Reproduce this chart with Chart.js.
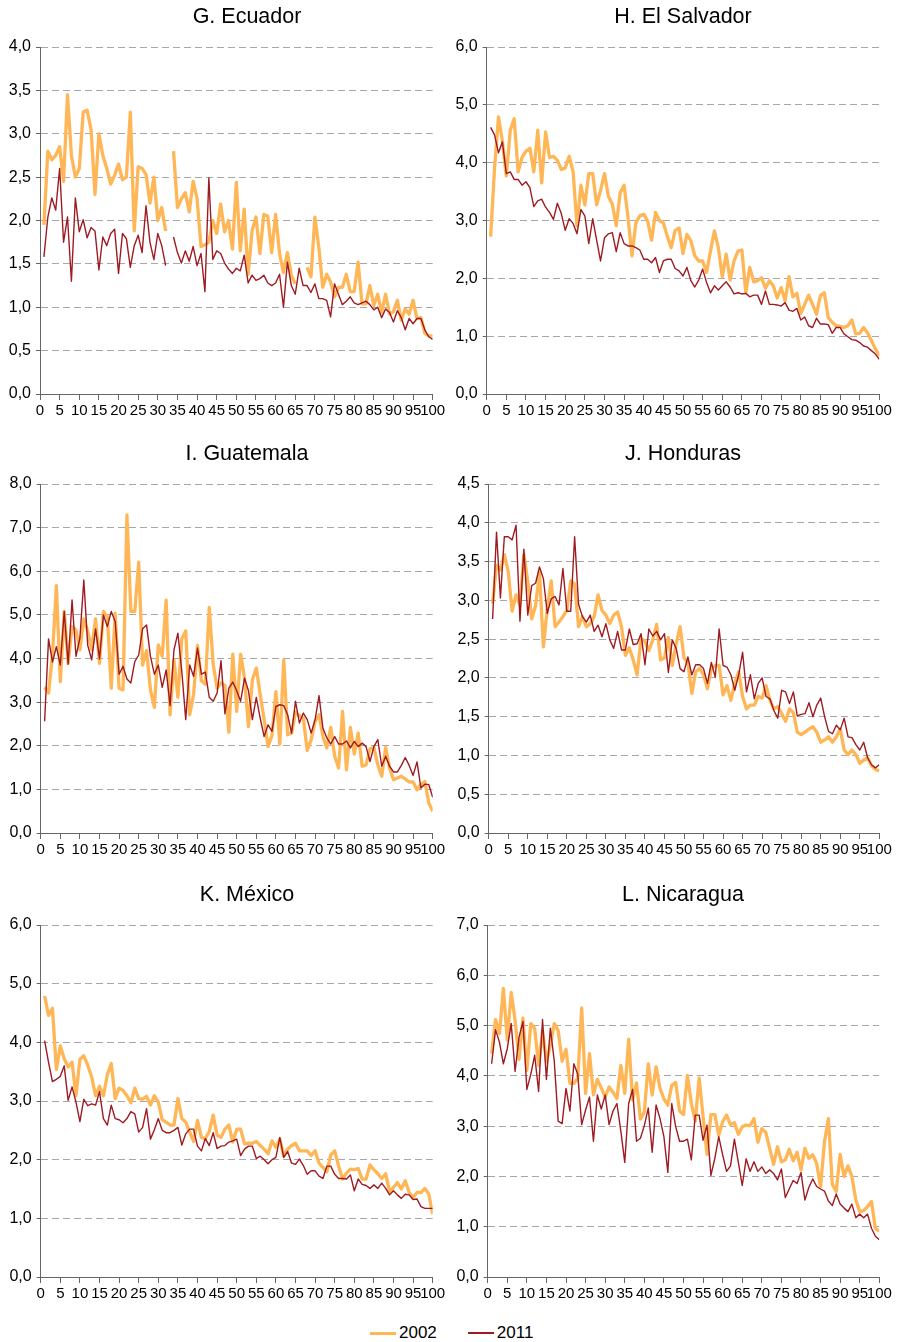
<!DOCTYPE html>
<html>
<head>
<meta charset="utf-8">
<script src="https://cdn.jsdelivr.net/npm/chart.js@4.4.1/dist/chart.umd.min.js"></script>
<style>
  body { margin: 0; width: 898px; height: 1342px; background: #fff; position: relative; overflow: hidden;
         font-family: "Liberation Sans", Arial, sans-serif; }
  canvas { position: absolute; }
  #legend { position: absolute; left: 370px; top: 1322px; height: 22px; display: flex; align-items: center;
            font-size: 17px; color: #000; }
  .swatch { display: inline-block; width: 26px; margin-right: 3px; }
</style>
</head>
<body>
<canvas id="ecuador" width="449" height="430" style="left:0px;top:0px"></canvas>
<canvas id="salvador" width="449" height="430" style="left:447px;top:0px"></canvas>
<canvas id="guatemala" width="449" height="432" style="left:0px;top:437px"></canvas>
<canvas id="honduras" width="449" height="432" style="left:447px;top:437px"></canvas>
<canvas id="mexico" width="449" height="435" style="left:0px;top:878px"></canvas>
<canvas id="nicaragua" width="449" height="435" style="left:447px;top:878px"></canvas>
<div id="legend">
  <span class="swatch" style="height:3px;background:#FFB656"></span><span style="margin-right:31px">2002</span>
  <span class="swatch" style="height:1.5px;background:#9E1B22"></span><span>2011</span>
</div>
<script>
// percentiles 1..100 on the x axis
const pcts = Array.from({ length: 100 }, (_, i) => i + 1);
const years = ["2002", "2011"];

const ecuador2002 = [
  1.95, 2.8, 2.7, 2.75, 2.85, 2.45, 3.45, 2.75, 2.5, 2.6,
  3.25, 3.27, 3.05, 2.3, 3.0, 2.75, 2.6, 2.42, 2.52, 2.65,
  2.47, 2.5, 3.25, 1.88, 2.62, 2.6, 2.53, 2.2, 2.5, 2.0,
  2.15, 1.88, null, 2.8, 2.15, 2.25, 2.32, 2.1, 2.45, 2.25,
  1.7, 1.72, 1.75, 2.0, 1.85, 2.19, 1.87, 2.0, 1.67, 2.44,
  1.65, 2.13, 1.38, 1.88, 2.04, 1.62, 2.07, 2.05, 1.63, 2.07,
  1.62, 1.40, 1.63, 1.37, 1.27, null, null, 1.46, 1.35, 2.04,
  1.69, 1.23, 1.38, 1.29, 1.12, 1.23, 1.23, 1.38, 1.18, 1.18,
  1.52, 1.04, 1.04, 1.25, 1.02, 1.15, 0.94, 1.15, 0.92, 0.95,
  1.08, 0.85, 0.98, 0.92, 1.08, 0.87, 0.88, 0.70, 0.67, 0.67,
];
const ecuador2011 = [
  1.58, 2.04, 2.26, 2.12, 2.6, 1.75, 2.04, 1.3, 2.26, 1.87,
  2.01, 1.80, 1.92, 1.88, 1.43, 1.81, 1.71, 1.85, 1.90, 1.39,
  1.85, 1.79, 1.46, 1.71, 1.83, 1.63, 2.17, 1.75, 1.55, 1.85,
  1.71, 1.48, null, 1.81, 1.63, 1.51, 1.65, 1.53, 1.70, 1.48,
  1.62, 1.18, 2.49, 1.55, 1.65, 1.62, 1.51, 1.44, 1.39, 1.45,
  1.42, 1.60, 1.28, 1.37, 1.31, 1.33, 1.37, 1.28, 1.25, 1.28,
  1.38, 1.0, 1.52, 1.25, 1.15, 1.45, 1.25, 1.25, 1.17, 1.27,
  1.10, 1.10, 1.08, 0.89, 1.27, 1.15, 1.03, 1.07, 1.12, 1.05,
  1.03, 1.05, 1.07, 1.03, 0.97, 1.0, 0.88, 0.98, 0.94, 0.83,
  0.96, 0.88, 0.74, 0.87, 0.81, 0.87, 0.87, 0.74, 0.66, 0.63,
];
const salvador2002 = [
  2.72, 3.9, 4.79, 4.37, 3.77, 4.56, 4.76, 3.84, 4.09, 4.2,
  4.25, 3.84, 4.56, 3.65, 4.53, 4.09, 4.11, 4.04, 3.88, 3.91,
  4.11, 3.85, 2.91, 3.61, 3.27, 3.81, 3.81, 3.27, 3.52, 3.81,
  3.42, 3.28, 2.91, 3.48, 3.61, 3.05, 2.39, 2.96, 3.08, 3.11,
  2.99, 2.66, 3.14, 3.0, 2.96, 2.73, 2.53, 2.83, 2.87, 2.43,
  2.76, 2.65, 2.39, 2.30, 2.30, 2.10, 2.47, 2.82, 2.53, 2.03,
  2.42, 1.97, 2.30, 2.47, 2.49, 1.75, 2.19, 1.94, 1.96, 2.01,
  1.83, 1.96, 1.87, 1.66, 1.84, 1.61, 2.03, 1.68, 1.74, 1.39,
  1.55, 1.71, 1.55, 1.38, 1.70, 1.75, 1.32, 1.24, 1.18, 1.17,
  1.15, 1.18, 1.28, 1.04, 1.05, 1.15, 1.06, 0.92, 0.78, 0.66,
];
const salvador2011 = [
  4.61, 4.48, 4.17, 4.36, 3.81, 3.84, 3.71, 3.71, 3.61, 3.67,
  3.57, 3.24, 3.34, 3.37, 3.23, 3.14, 3.02, 3.30, 3.12, 2.83,
  3.03, 2.95, 2.77, 3.19, 3.08, 2.60, 3.03, 2.66, 2.30, 2.70,
  2.77, 2.79, 2.46, 2.79, 2.60, 2.56, 2.56, 2.53, 2.49, 2.33,
  2.33, 2.27, 2.36, 2.10, 2.30, 2.33, 2.33, 2.17, 2.13, 2.04,
  2.19, 1.96, 1.85, 1.97, 2.16, 1.93, 1.75, 1.87, 1.80, 1.87,
  1.94, 1.85, 1.73, 1.75, 1.73, 1.74, 1.68, 1.71, 1.71, 1.55,
  1.78, 1.55, 1.55, 1.54, 1.52, 1.58, 1.45, 1.43, 1.48, 1.28,
  1.33, 1.18, 1.15, 1.31, 1.21, 1.21, 1.20, 1.05, 1.15, 1.15,
  1.04, 0.99, 0.94, 0.93, 0.89, 0.83, 0.81, 0.75, 0.69, 0.60,
];
const guatemala2002 = [
  3.34, 3.21, 4.08, 5.67, 3.47, 5.08, 3.89, 4.73, 4.66, 4.2,
  4.91, 4.62, 4.2, 4.91, 3.89, 5.08, 4.96, 3.32, 5.04, 3.32,
  3.28, 7.29, 5.08, 5.08, 6.21, 3.85, 4.18, 3.28, 2.88, 4.31,
  4.05, 5.34, 2.71, 3.97, 3.11, 4.45, 4.63, 2.71, 3.17, 4.30,
  3.49, 3.41, 5.17, 3.87, 3.32, 3.44, 3.38, 2.31, 4.10, 2.79,
  4.10, 3.55, 2.44, 3.51, 3.78, 3.17, 2.60, 1.98, 2.24, 3.24,
  2.04, 3.97, 2.25, 2.29, 2.77, 2.69, 2.63, 1.89, 2.14, 2.56,
  2.71, 2.21, 1.95, 2.42, 1.76, 1.49, 2.79, 1.45, 2.42, 1.81,
  2.29, 1.53, 1.56, 1.93, 1.96, 1.56, 1.30, 1.96, 1.49, 1.22,
  1.26, 1.30, 1.24, 1.17, 1.17, 0.99, 1.11, 1.18, 0.69, 0.50,
];
const guatemala2011 = [
  2.56, 4.45, 3.92, 4.27, 3.85, 5.08, 3.87, 5.34, 4.05, 4.47,
  5.80, 4.30, 3.97, 4.68, 3.99, 5.0, 4.73, 5.08, 4.85, 3.64,
  3.82, 3.53, 3.44, 3.93, 4.08, 4.68, 4.77, 4.05, 3.64, 3.85,
  3.34, 3.74, 2.92, 4.20, 4.58, 3.70, 2.60, 3.85, 3.59, 4.24,
  3.64, 3.69, 3.11, 3.02, 3.21, 3.95, 2.73, 3.32, 3.46, 3.26,
  3.02, 3.55, 3.26, 2.60, 3.11, 2.63, 2.21, 2.48, 2.33, 2.90,
  2.94, 2.92, 2.71, 2.29, 3.02, 2.52, 2.75, 2.60, 2.29, 2.60,
  3.15, 2.40, 2.18, 2.04, 2.21, 2.04, 2.04, 2.11, 1.95, 2.10,
  1.98, 2.06, 1.98, 1.64, 1.98, 2.14, 1.53, 1.76, 1.53, 1.40,
  1.40, 1.55, 1.73, 1.55, 1.32, 1.63, 1.03, 1.12, 1.11, 0.82,
];
const honduras2002 = [
  2.96, 3.45, 3.39, 3.59, 3.37, 2.86, 3.07, 2.94, 3.59, 3.25,
  2.76, 2.93, 3.36, 2.40, 2.90, 3.25, 2.66, 2.72, 2.79, 2.87,
  3.25, 3.21, 2.66, 2.79, 2.66, 2.70, 2.79, 3.07, 2.87, 2.81,
  2.70, 2.81, 2.85, 2.66, 2.29, 2.39, 2.23, 2.04, 2.51, 2.47,
  2.35, 2.49, 2.69, 2.23, 2.26, 2.52, 2.16, 2.44, 2.66, 2.26,
  2.19, 1.80, 2.08, 2.12, 2.04, 1.86, 2.12, 2.16, 2.16, 1.78,
  1.90, 1.71, 1.93, 2.08, 1.76, 1.60, 1.65, 1.65, 1.76, 1.74,
  1.90, 1.71, 1.60, 1.63, 1.54, 1.44, 1.60, 1.55, 1.30, 1.27,
  1.30, 1.34, 1.37, 1.30, 1.17, 1.20, 1.24, 1.17, 1.24, 1.34,
  1.07, 1.01, 1.07, 1.01, 0.90, 0.94, 0.97, 0.87, 0.82, 0.80,
];
const honduras2011 = [
  2.76, 3.88, 3.03, 3.82, 3.82, 3.78, 3.97, 2.73, 3.66, 2.81,
  3.19, 3.22, 3.43, 3.28, 2.83, 3.02, 3.05, 2.94, 3.41, 2.86,
  2.86, 3.82, 2.95, 2.79, 2.72, 2.81, 2.60, 2.68, 2.53, 2.70,
  2.49, 2.38, 2.60, 2.36, 2.36, 2.63, 2.43, 2.44, 2.57, 2.17,
  2.63, 2.54, 2.60, 2.49, 2.57, 2.07, 2.49, 2.38, 2.12, 2.08,
  2.27, 2.04, 2.17, 2.17, 2.12, 1.93, 2.20, 2.01, 2.63, 2.16,
  2.14, 2.04, 1.84, 2.04, 2.33, 1.82, 2.04, 1.73, 1.93, 2.00,
  1.76, 1.73, 1.58, 1.48, 1.84, 1.82, 1.67, 1.82, 1.51, 1.53,
  1.54, 1.68, 1.50, 1.65, 1.74, 1.50, 1.31, 1.28, 1.39, 1.33,
  1.48, 1.24, 1.23, 1.14, 1.07, 1.17, 0.97, 0.88, 0.84, 0.88,
];
const mexico2002 = [
  4.79, 4.46, 4.58, 3.54, 3.94, 3.72, 3.58, 3.66, 3.09, 3.71,
  3.77, 3.61, 3.41, 3.09, 3.25, 3.09, 3.45, 3.64, 3.04, 3.22,
  3.18, 3.09, 2.97, 3.22, 3.04, 3.03, 3.08, 2.93, 3.09, 2.98,
  2.68, 2.64, 2.59, 2.59, 3.04, 2.70, 2.64, 2.47, 2.31, 2.67,
  2.38, 2.36, 2.48, 2.76, 2.42, 2.38, 2.52, 2.59, 2.30, 2.52,
  2.52, 2.27, 2.28, 2.28, 2.31, 2.24, 2.18, 2.10, 2.32, 2.21,
  2.35, 2.06, 2.18, 2.24, 2.28, 2.15, 2.15, 2.15, 2.07, 2.15,
  1.94, 1.87, 1.79, 2.08, 2.15, 1.89, 1.67, 1.77, 1.84, 1.83,
  1.85, 1.67, 1.67, 1.91, 1.83, 1.76, 1.68, 1.76, 1.45, 1.53,
  1.61, 1.50, 1.64, 1.44, 1.36, 1.44, 1.44, 1.51, 1.41, 1.07,
];
const mexico2011 = [
  4.03, 3.66, 3.33, 3.37, 3.42, 3.60, 3.01, 3.24, 2.98, 2.65,
  3.03, 2.92, 2.95, 2.93, 3.16, 2.70, 2.59, 2.93, 2.70, 2.68,
  2.63, 2.70, 2.82, 2.78, 2.47, 2.55, 2.87, 2.35, 2.51, 2.70,
  2.50, 2.46, 2.46, 2.50, 2.55, 2.25, 2.44, 2.52, 2.52, 2.23,
  2.15, 2.36, 2.24, 2.46, 2.19, 2.23, 2.24, 2.30, 2.32, 2.35,
  2.07, 2.18, 2.23, 2.23, 2.02, 2.06, 2.00, 1.93, 2.00, 2.04,
  2.38, 2.04, 2.14, 1.94, 1.92, 2.01, 1.90, 1.75, 1.81, 1.81,
  1.72, 1.68, 1.89, 1.89, 1.75, 1.68, 1.68, 1.67, 1.74, 1.47,
  1.67, 1.58, 1.56, 1.51, 1.57, 1.51, 1.60, 1.51, 1.40, 1.47,
  1.40, 1.34, 1.41, 1.40, 1.32, 1.33, 1.20, 1.17, 1.17, 1.17,
];
const nicaragua2002 = [
  4.44, 5.12, 4.84, 5.74, 4.71, 5.66, 5.10, 4.33, 5.15, 4.11,
  5.04, 4.94, 4.21, 4.90, 4.28, 4.61, 5.04, 4.90, 4.29, 4.53,
  3.85, 3.85, 3.95, 5.35, 3.65, 4.44, 3.62, 3.93, 3.76, 3.58,
  3.78, 3.67, 3.55, 4.21, 3.65, 4.73, 3.52, 3.86, 3.14, 3.28,
  4.24, 3.62, 4.18, 3.75, 3.54, 3.42, 3.81, 3.87, 3.30, 3.23,
  4.01, 3.45, 3.10, 3.96, 3.19, 2.44, 3.23, 3.23, 2.82, 3.09,
  3.22, 3.03, 3.07, 2.84, 2.99, 3.02, 3.01, 3.15, 2.68, 2.95,
  2.88, 2.56, 2.24, 2.59, 2.29, 2.33, 2.54, 2.31, 2.48, 2.13,
  2.56, 2.36, 2.43, 2.26, 1.80, 2.69, 3.15, 1.84, 1.70, 2.44,
  2.00, 2.21, 2.00, 1.53, 1.30, 1.32, 1.40, 1.50, 0.97, 0.91,
];
const nicaragua2011 = [
  4.24, 4.92, 4.67, 4.24, 4.54, 5.04, 4.09, 4.77, 5.08, 3.73,
  4.03, 4.41, 3.69, 5.12, 3.93, 4.95, 4.29, 3.10, 3.05, 3.75,
  3.30, 4.24, 4.03, 3.03, 3.32, 3.58, 2.70, 3.62, 3.34, 3.62,
  3.03, 3.30, 3.45, 2.90, 2.28, 3.45, 3.73, 2.70, 2.76, 3.01,
  3.36, 2.48, 3.42, 3.15, 2.79, 2.08, 3.45, 2.99, 2.70, 2.70,
  2.74, 2.33, 3.22, 3.22, 2.72, 3.02, 2.02, 2.36, 2.79, 2.43,
  2.10, 2.21, 2.74, 2.28, 1.82, 2.35, 2.10, 2.29, 2.10, 2.19,
  2.06, 2.13, 2.06, 1.93, 2.15, 1.58, 1.75, 1.92, 1.86, 2.08,
  1.53, 1.78, 1.95, 1.80, 1.75, 1.71, 1.51, 1.42, 1.65, 1.45,
  1.37, 1.30, 1.45, 1.18, 1.25, 1.18, 1.25, 0.97, 0.81, 0.74,
];

const ORANGE = "#FFB656";
const RED = "#9E1B22";
const AXIS = "#666666";
const GRID = "#A8A8A8";
const FONT = '"Liberation Sans", Arial, sans-serif';

// panel heading, drawn at a fixed spot above each plot
const panelTitle = {
  id: "panelTitle",
  afterDraw(chart, args, opts) {
    const ctx = chart.ctx;
    ctx.save();
    ctx.font = "21.5px " + FONT;
    ctx.fillStyle = "#000";
    ctx.textAlign = "center";
    ctx.textBaseline = "middle";
    ctx.fillText(opts.text, opts.x, opts.y);
    ctx.restore();
  },
};

function toPoints(values) {
  return values.map((v, i) => ({ x: pcts[i], y: v }));
}

function makeConfig(title, titleX, yMax, yStep, v2002, v2011, axisWidth, padRight) {
  return {
    type: "line",
    data: {
      datasets: [
        { label: years[0], data: toPoints(v2002), borderColor: ORANGE, borderWidth: 3.3, order: 2 },
        { label: years[1], data: toPoints(v2011), borderColor: RED, borderWidth: 1.4, order: 1 },
      ],
    },
    plugins: [panelTitle],
    options: {
      responsive: false,
      animation: false,
      spanGaps: false,
      elements: {
        point: { radius: 0, hoverRadius: 0 },
        line: { tension: 0, borderJoinStyle: "round", fill: false },
      },
      layout: { padding: { left: 0, right: padRight, top: 47, bottom: 10 } },
      plugins: {
        legend: { display: false },
        tooltip: { enabled: false },
        panelTitle: { text: title, x: titleX, y: 17 },
      },
      scales: {
        x: {
          type: "linear",
          min: 0,
          max: 100,
          afterFit: (s) => { s.height = 26; },
          ticks: {
            stepSize: 5, autoSkip: false, maxRotation: 0, minRotation: 0,
            color: "#000", font: { size: 15, family: FONT }, padding: 2,
          },
          grid: { drawOnChartArea: false, tickLength: 6, tickColor: AXIS, tickWidth: 1 },
          border: { display: true, color: AXIS, width: 1 },
        },
        y: {
          min: 0,
          max: yMax,
          afterFit: (s) => { s.width = axisWidth; },
          ticks: {
            stepSize: yStep, color: "#000", font: { size: 16, family: FONT }, padding: 5,
            callback: (v) => v.toFixed(1).replace(".", ","),
          },
          grid: {
            color: (c) => (c.tick && c.tick.value === 0 ? "rgba(0,0,0,0)" : GRID),
            lineWidth: 1, tickLength: 4, tickColor: AXIS, tickWidth: 1, tickBorderDash: [],
          },
          border: { display: true, color: AXIS, width: 1, dash: [7, 4] },
        },
      },
    },
  };
}

new Chart(document.getElementById("ecuador"), makeConfig("G. Ecuador", 247, 4, 0.5, ecuador2002, ecuador2011, 40, 16.3));
new Chart(document.getElementById("salvador"), makeConfig("H. El Salvador", 236, 6, 1, salvador2002, salvador2011, 39.7, 16.7));
new Chart(document.getElementById("guatemala"), makeConfig("I. Guatemala", 247, 8, 1, guatemala2002, guatemala2011, 40.7, 16.3));
new Chart(document.getElementById("honduras"), makeConfig("J. Honduras", 236, 4.5, 0.5, honduras2002, honduras2011, 41.7, 16.7));
new Chart(document.getElementById("mexico"), makeConfig("K. México", 247, 6, 1, mexico2002, mexico2011, 40.7, 16.3));
new Chart(document.getElementById("nicaragua"), makeConfig("L. Nicaragua", 236, 7, 1, nicaragua2002, nicaragua2011, 40.7, 16.7));
</script>
</body>
</html>
